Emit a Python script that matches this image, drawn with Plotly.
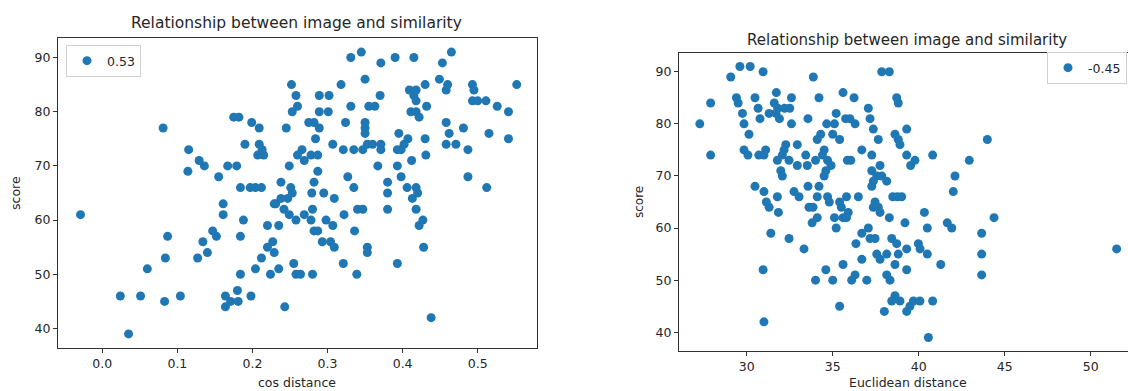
import plotly.graph_objects as go

# ---------------- data ----------------
cos_distance = [
    -0.029, 0.024, 0.051, 0.035, 0.083, 0.104, 0.060, 0.084, 0.087,
    0.081, 0.115, 0.114, 0.129, 0.136, 0.155, 0.167, 0.179, 0.175, 0.182, 0.199, 0.209,
    0.190, 0.209, 0.213, 0.207, 0.215, 0.184, 0.197, 0.204, 0.212, 0.161, 0.161, 0.188,
    0.184, 0.147, 0.152, 0.134, 0.140, 0.127, 0.184, 0.204, 0.212, 0.220, 0.227, 0.229,
    0.224, 0.235, 0.255, 0.258, 0.220, 0.235, 0.164, 0.171, 0.180, 0.181, 0.164, 0.198,
    0.243, 0.252, 0.258, 0.260, 0.253, 0.245, 0.260, 0.249, 0.238, 0.251, 0.253, 0.247,
    0.238, 0.231, 0.229, 0.242, 0.249, 0.258,
    0.331, 0.345, 0.371, 0.390, 0.415, 0.453, 0.465,
    0.318, 0.350, 0.449, 0.460, 0.458, 0.430,
    0.409, 0.418, 0.415, 0.418,
    0.493, 0.495, 0.493, 0.500, 0.511, 0.526, 0.541, 0.552,
    0.289, 0.302, 0.370, 0.331, 0.355, 0.363, 0.432,
    0.289, 0.301, 0.411, 0.418, 0.422,
    0.275, 0.282, 0.289, 0.324, 0.350, 0.350, 0.350, 0.458,
    0.462, 0.481, 0.515, 0.541, 0.284, 0.395,
    0.407, 0.402, 0.398, 0.393, 0.430, 0.307,
    0.321, 0.335, 0.347, 0.353, 0.360, 0.371, 0.371,
    0.458, 0.471, 0.487,
    0.266, 0.269, 0.278, 0.287, 0.431, 0.412,
    0.367, 0.393, 0.287, 0.398, 0.327, 0.335,
    0.282, 0.279, 0.295, 0.309, 0.380, 0.380,
    0.406, 0.418, 0.420, 0.413, 0.487, 0.512,
    0.269, 0.280, 0.278, 0.322, 0.340, 0.347, 0.380, 0.418,
    0.298, 0.307, 0.427, 0.422, 0.282, 0.287, 0.336,
    0.293, 0.304, 0.309, 0.353, 0.353, 0.428,
    0.321, 0.393, 0.264, 0.280, 0.339, 0.438,
]
cos_score = [
    61, 46, 46, 39, 45, 46, 51, 53, 57,
    77, 73, 69, 71, 70, 68, 70, 70, 79, 79, 78, 77,
    74, 74, 73, 72, 72, 66, 66, 66, 66, 63, 61, 60,
    57, 58, 57, 56, 54, 53, 50, 51, 53, 55, 56, 54,
    50, 51, 52, 50, 59, 59, 46, 45, 47, 45, 44, 46,
    44, 85, 83, 81, 80, 77, 72, 70, 67, 66, 65, 64,
    64, 63, 63, 62, 61, 60,
    90, 91, 89, 90, 90, 89, 91,
    85, 86, 86, 85, 84, 85,
    84, 84, 83, 82,
    85, 84, 82, 82, 82, 81, 80, 85,
    83, 83, 83, 81, 81, 81, 81,
    80, 80, 80, 80, 79,
    78, 78, 77, 78, 78, 77, 76, 78,
    76, 77, 76, 75, 75, 76,
    75, 74, 73, 73, 75, 74,
    73, 73, 73, 74, 74, 74, 73,
    74, 74, 73,
    73, 71, 72, 72, 72, 71,
    70, 70, 69, 68, 68, 66,
    67, 65, 65, 64, 67, 65,
    66, 66, 65, 64, 68, 66,
    61, 62, 60, 61, 62, 62, 62, 62,
    60, 59, 60, 59, 58, 58, 58,
    56, 56, 55, 55, 54, 55,
    52, 52, 50, 50, 50, 42,
]

euclid_distance = [
    27.27, 27.9, 27.9, 29.07, 29.6, 30.2, 30.95,
    29.4, 29.5, 29.75, 29.84, 30.13, 30.48, 30.66, 30.77,
    31.72, 31.3, 31.7, 31.6, 31.9, 31.8, 32.2, 32.5, 32.6, 32.6,
    33.87, 34.2, 35.6, 33.56,
    35.2, 34.65, 35.1, 35.0, 34.3, 34.1, 35.4, 35.75,
    29.84, 30.07, 30.7, 31.1, 31.0,
    32.27, 32.17, 32.07, 31.78, 31.98, 32.07, 32.46, 32.94, 33.43, 32.94, 33.52,
    34.0, 34.5, 34.4, 34.7, 34.9, 34.6, 34.5, 35.85,
    30.48, 31.0, 31.14, 31.3, 31.78, 32.75, 33.04, 33.56, 34.2, 34.1,
    33.62, 33.85, 34.7, 34.8, 35.4, 35.5, 35.8,
    33.8, 34.1, 35.1, 35.2, 35.6, 35.8,
    31.4, 32.46, 33.33, 30.95, 31.0, 34.0, 34.6, 35.0, 35.6, 35.4,
    31.84,
    37.85, 38.29, 36.24, 38.72, 38.81, 37.07, 37.17, 36.0, 36.3, 37.36, 39.3,
    38.62, 38.81, 38.91, 37.65, 36.69, 37.27, 36.05, 39.3, 39.78, 39.53, 40.81, 42.94, 43.99,
    37.75, 37.27, 37.56, 37.85, 38.14, 37.36, 37.27, 42.11, 42.01,
    36.49, 38.49, 38.76, 39.01, 37.46, 37.36, 37.65,
    35.9, 37.75, 38.29, 39.2, 40.33, 40.5, 41.66, 41.92, 44.38, 43.66,
    37.07, 36.69, 37.17, 37.46, 36.35, 38.43, 38.72, 38.81, 38.14, 37.56, 37.75,
    39.3, 39.98, 40.08, 40.5, 36.69, 38.62, 41.28, 43.66,
    36.3, 36.1, 36.98, 38.14, 38.33, 39.3, 43.66,
    38.62, 38.43, 38.91, 39.49, 39.3, 39.69, 40.07, 40.81, 38.0, 40.56,
    51.51,
]
euclid_score = [
    80, 84, 74, 89, 91, 91, 90,
    85, 84, 82, 80, 78, 85, 83, 81,
    86, 82, 82, 84, 81, 83, 83, 83, 85, 80,
    89, 85, 86, 81,
    82, 80, 80, 78, 78, 77, 77, 81,
    75, 74, 74, 75, 74,
    76, 75, 74, 73, 71, 70, 73, 76, 74, 72, 72,
    73, 75, 74, 73, 72, 71, 70, 73,
    68, 67, 65, 64, 66, 67, 66, 68, 68, 66,
    64, 64, 66, 65, 65, 64, 66,
    61, 62, 62, 60, 62, 62,
    59, 58, 56, 52, 42, 50, 52, 50, 53, 45,
    63,
    90, 90, 85, 85, 84, 83, 81, 81, 80, 79, 79,
    78, 77, 76, 77, 75, 74, 73, 74, 73, 72, 74, 73, 77,
    72, 71, 70, 70, 69, 69, 68, 70, 67,
    66, 66, 66, 66, 65, 64, 64,
    63, 63, 62, 61, 63, 60, 61, 60, 62, 59,
    60, 59, 58, 58, 57, 58, 57, 55, 55, 55, 54,
    56, 57, 56, 55, 54, 53, 53, 55,
    51, 50, 50, 51, 50, 52, 51,
    47, 46, 46, 45, 44, 46, 46, 46, 44, 39,
    56,
]

left_legend_label = "0.53"
right_legend_label = "-0.45"
title_text = "Relationship between image and similarity"
left_x_label = "cos distance"
right_x_label = "Euclidean distance"
y_label = "score"
left_x_ticks = [0.0, 0.1, 0.2, 0.3, 0.4, 0.5]
left_x_ticktext = ["0.0", "0.1", "0.2", "0.3", "0.4", "0.5"]
right_x_ticks = [30, 35, 40, 45, 50]
y_ticks = [40, 50, 60, 70, 80, 90]

# ---------------- figure ----------------
BLUE = "#1f77b4"
FONT = "DejaVu Sans"
TXT = "#262626"
W, H = 1128, 391

fig = go.Figure()
fig.add_trace(go.Scatter(
    x=cos_distance, y=cos_score, mode="markers", name=left_legend_label,
    marker=dict(color=BLUE, size=9, line=dict(width=0)),
    xaxis="x", yaxis="y", legend="legend",
))
fig.add_trace(go.Scatter(
    x=euclid_distance, y=euclid_score, mode="markers", name=right_legend_label,
    marker=dict(color=BLUE, size=9, line=dict(width=0)),
    xaxis="x2", yaxis="y2", legend="legend2",
))

axis_common = dict(
    showgrid=False, zeroline=False, showline=True, linecolor="#333",
    linewidth=1, ticks="outside", ticklen=4, tickcolor="#333",
    tickfont=dict(family=FONT, size=12.5, color=TXT),
)

fig.update_layout(
    width=W, height=H,
    margin=dict(l=0, r=0, t=0, b=0),
    paper_bgcolor="white", plot_bgcolor="white",
    font=dict(family=FONT, color=TXT),
    xaxis=dict(domain=[58 / W, 537 / W], range=[-0.059, 0.579], anchor="y",
               tickvals=left_x_ticks, ticktext=left_x_ticktext, mirror=True, **axis_common),
    yaxis=dict(domain=[1 - 348 / H, 1 - 38 / H], range=[36.4, 93.6], anchor="x",
               tickvals=y_ticks, mirror=True, **axis_common),
    xaxis2=dict(domain=[679 / W, 1.0], range=[26.06, 52.17], anchor="y2",
                tickvals=right_x_ticks, mirror=True, **axis_common),
    yaxis2=dict(domain=[1 - 351 / H, 1 - 53 / H], range=[36.4, 93.6], anchor="x2",
                tickvals=y_ticks, mirror=False, **axis_common),
    legend=dict(x=66 / W, y=1 - 45 / H, xanchor="left", yanchor="top",
                bordercolor="#d0d0d0", borderwidth=1, bgcolor="white",
                font=dict(family=FONT, size=12.5, color=TXT)),
    legend2=dict(x=1047 / W, y=1 - 52 / H, xanchor="left", yanchor="top",
                 bordercolor="#d0d0d0", borderwidth=1, bgcolor="white",
                 font=dict(family=FONT, size=12.5, color=TXT)),
    showlegend=True,
)

annotations = [
    dict(text=title_text, x=296 / W, y=1 - 23 / H, font=dict(size=15.5)),
    dict(text=title_text, x=907 / W, y=1 - 40 / H, font=dict(size=15)),
    dict(text=left_x_label, x=297 / W, y=1 - 382 / H, font=dict(size=12.5)),
    dict(text=right_x_label, x=908 / W, y=1 - 382 / H, font=dict(size=12.5)),
    dict(text=y_label, x=16 / W, y=1 - 193 / H, textangle=-90, font=dict(size=12.5)),
    dict(text=y_label, x=639 / W, y=1 - 202 / H, textangle=-90, font=dict(size=12)),
]
for a in annotations:
    a.update(xref="paper", yref="paper", showarrow=False,
             xanchor="center", yanchor="middle")
    a["font"].update(family=FONT, color=TXT)
fig.update_layout(annotations=annotations)

fig.write_html(
    "out.html",
    config={"displayModeBar": False},
    post_script="document.body.style.margin='0';document.body.style.overflow='hidden';",
)
